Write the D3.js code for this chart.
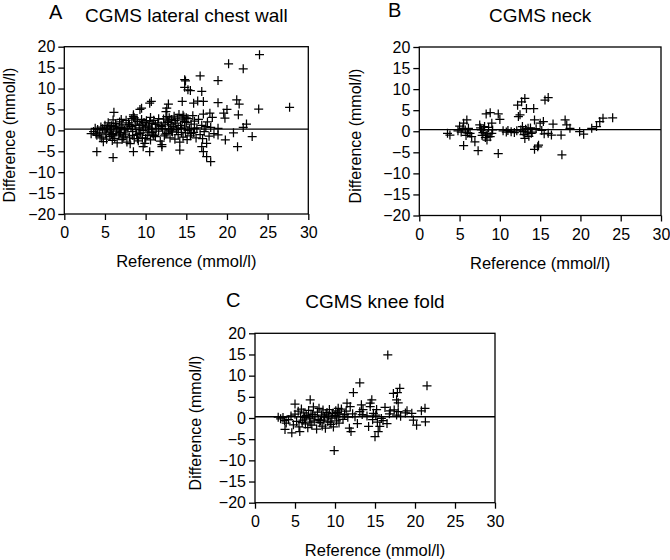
<!DOCTYPE html>
<html><head><meta charset="utf-8">
<script src="https://cdn.jsdelivr.net/npm/d3@7"></script>
<style>body{margin:0;background:#fff}svg{display:block}</style>
</head><body>
<svg id="c" width="670" height="560"></svg>
<script>
// ---- data ----
const panelLetters = ["A", "B", "C"];
const panelTitles = ["CGMS lateral chest wall", "CGMS neck", "CGMS knee fold"];
const xLabel = "Reference (mmol/l)";
const yLabel = "Difference (mmol/l)";
const xTicks = [0, 5, 10, 15, 20, 25, 30];
const yTicks = [-20, -15, -10, -5, 0, 5, 10, 15, 20];
const biasValues = [0.3, 0.4, 0.3];

// panel A: [reference, difference]
const chestWall = [
[3.3,-0.8],[3.6,-0.3],[3.8,0.5],[4.0,-1.2],[4.1,0.2],[4.3,-0.6],[4.5,0.8],[4.6,-1.8],[4.8,-2.7],[4.9,0.1],
[5.0,1.2],[5.1,-0.9],[5.2,-2.1],[5.3,0.6],[5.4,1.8],[5.5,-0.4],[5.6,-1.5],[5.7,0.3],[5.8,1.1],[5.9,-2.4],
[6.0,-0.7],[6.1,0.9],[6.2,-1.9],[6.3,1.6],[6.4,-0.2],[6.5,-3.0],[6.6,0.4],[6.7,-1.1],[6.8,2.0],[6.9,-0.5],
[7.0,0.7],[7.1,-2.2],[7.2,1.3],[7.3,-1.4],[7.4,0.1],[7.5,-0.9],[7.6,2.4],[7.7,-2.8],[7.8,0.5],[7.9,1.8],
[8.0,-1.6],[8.1,-3.2],[8.2,0.9],[8.3,2.8],[8.4,-0.3],[8.5,3.3],[8.6,-2.0],[8.7,1.2],[8.8,0.2],[8.9,-1.0],
[9.0,2.1],[9.1,-2.5],[9.2,0.6],[9.3,1.5],[9.4,-0.6],[9.5,2.6],[9.6,-1.8],[9.7,0.0],[9.8,1.9],[9.9,-3.1],
[10.0,0.8],[10.1,2.3],[10.2,-1.2],[10.3,1.0],[10.4,-0.4],[10.5,2.0],[10.6,-2.3],[10.7,0.3],[10.8,1.6],[10.9,-0.9],
[11.0,2.4],[11.2,-1.5],[11.3,0.5],[11.5,1.8],[11.6,-0.2],[11.8,-2.6],[11.9,1.1],[12.0,-3.4],[12.1,0.4],[12.2,2.7],
[12.3,-1.3],[12.4,1.5],[12.5,4.5],[12.6,-0.7],[12.7,2.2],[12.8,0.1],[12.9,3.0],[13.0,-1.8],[13.1,1.3],[13.2,2.6],
[13.3,-0.4],[13.4,0.9],[13.5,3.4],[13.6,-2.1],[13.7,1.7],[13.8,0.2],[13.9,2.9],[14.0,-1.0],[14.1,3.8],[14.2,-2.8],
[14.3,1.2],[14.4,0.4],[14.5,2.5],[14.6,-1.6],[14.7,3.2],[14.8,0.8],[14.9,-0.6],[15.0,1.9],[15.1,-2.2],[15.2,2.8],
[15.4,0.3],[15.5,-1.3],[15.6,1.5],[15.8,3.5],[15.9,-0.5],[16.0,2.2],[16.2,-1.8],[16.3,0.6],[16.5,2.6],[16.7,-1.0],
[16.9,1.2],[17.1,3.9],[17.2,-0.3],[17.4,0.9],[17.6,2.0],[17.8,-1.4],[18.0,0.7],[18.2,3.1],[18.4,-0.8],
[5.2,0.3],[5.6,1.0],[6.0,-1.3],[6.4,0.8],[6.8,-0.6],[7.2,-1.8],[7.6,0.4],[8.0,1.4],[8.4,-1.2],[8.8,2.5],
[9.2,-0.8],[9.6,1.2],[10.0,-1.9],[10.4,0.6],[10.8,-0.5],[11.2,1.4],[11.6,2.8],[12.0,0.9],[12.4,-0.9],[12.8,1.9],
[13.2,-0.2],[13.6,2.3],[14.0,0.6],[14.4,-0.5],[14.8,2.1],[15.2,0.0],[15.6,-0.8],[16.0,0.5],[4.4,-1.4],[4.7,0.4],
[3.9,-0.9],[5.8,-1.0],[7.0,2.6],[9.0,-2.0],[11.0,-1.2],[13.0,0.4],[15.0,3.0],[17.0,-2.0],[8.6,3.0],[10.6,3.1],
[12.6,3.3],[14.6,3.6],
[24.0,18.1],[20.2,15.9],[22.0,14.7],[16.7,13.0],[18.9,11.9],[14.9,11.8],[14.8,10.3],[15.5,9.5],[16.9,9.3],[27.7,5.5],
[23.9,5.1],[21.2,7.3],[21.5,6.3],[20.0,5.0],[19.6,4.1],[19.75,2.9],[18.9,6.6],[16.4,7.0],[17.1,6.9],[15.9,6.5],
[14.5,6.9],[21.4,3.7],[22.4,1.5],[22.0,0.7],[23.1,-1.5],[21.3,-3.9],[19.8,-2.3],[20.8,-0.6],[16.9,-3.9],[17.1,-5.1],
[17.5,-6.3],[18.0,-7.5],[17.5,-3.1],[14.2,-4.7],[10.5,-5.1],[8.5,-5.1],[6.0,-6.5],[4.0,-5.1],[9.7,-3.9],[6.0,2.5],
[6.1,4.3],[9.3,5.0],[10.5,6.5],[10.7,6.9],[12.8,6.3],[12.6,5.3],[18.9,0.5],[18.9,-1.1],[17.9,4.1],[9.5,5.3],
[8.5,3.7],[12.0,-3.9],[15.2,9.7],[14.8,12.1]
];

// panel B
const neck = [
[3.5,-0.5],[3.8,-0.9],[4.8,0.1],[5.0,1.2],[5.5,1.9],[5.5,-3.4],[5.7,0.3],[5.9,2.7],[6.1,0.7],[6.3,-0.5],
[6.5,-1.3],[6.9,-2.5],[7.3,-4.6],[7.5,1.5],[7.7,0.3],[7.9,-0.3],[8.1,1.1],[8.3,4.1],[8.3,-0.9],[8.4,-2.1],
[8.8,4.4],[9.0,1.9],[9.0,-0.5],[9.1,0.3],[9.8,4.1],[10.0,2.8],[9.8,-5.3],[10.4,0.1],[11.4,-0.1],[12.1,0.1],
[12.2,6.2],[12.3,3.5],[12.5,3.9],[12.7,7.0],[12.9,-0.1],[13.1,-1.7],[13.1,7.8],[13.3,5.4],[13.5,0.7],[13.9,-0.5],
[14.2,5.4],[14.3,2.7],[14.3,-4.3],[14.8,-3.3],[15.0,1.9],[15.4,2.3],[15.6,7.4],[16.0,8.0],[16.0,-0.5],[16.4,-0.9],
[16.6,1.7],[17.6,-0.9],[17.7,-5.6],[18.1,2.7],[18.3,1.5],[18.7,0.7],[19.9,-0.1],[20.4,-0.7],[21.4,0.7],[22.0,1.1],
[22.4,2.3],[22.8,3.1],[24.0,3.2],
[5.2,-0.2],[5.4,0.6],[5.8,-1.0],[6.0,-0.4],[7.6,0.8],[7.8,-1.0],[8.0,0.4],[8.2,-1.5],[8.5,-0.6],[8.6,0.9],
[8.8,-1.3],[12.6,0.3],[12.8,1.1],[13.0,-0.8],[13.2,0.5],[13.4,-0.4],[13.6,-1.2],[13.8,0.8],[14.0,-0.2],[14.5,0.6],
[14.7,-3.7],[15.2,0.2],[15.5,-0.6],[10.8,-0.2],[11.0,0.2],[11.8,-0.3]
];

// panel C
const kneeFold = [
[16.6,14.9],[13.1,8.3],[12.3,6.0],[21.5,7.6],[18.1,7.0],[17.8,6.0],[17.3,5.8],[17.7,4.3],[17.9,3.6],[9.9,-7.7],
[5.0,3.3],[6.9,4.3],[5.6,-3.2],[4.6,-3.5],[3.75,-2.7],[2.9,0.2],[11.8,-2.4],[12.0,-3.2],[12.8,-1.3],[14.2,-2.0],
[15.0,-4.4],[15.4,-3.2],[15.6,-2.0],[16.5,-1.3],[15.8,-0.1],[16.25,2.5],[16.9,1.7],[19.0,1.7],[19.6,1.1],[19.8,-0.5],
[20.2,-1.7],[20.8,1.7],[21.25,2.3],[21.3,-0.9],[17.7,0.7],[17.9,1.5],[14.4,3.5],[14.6,4.3],[14.4,2.7],[13.3,3.1],
[11.9,2.7],[11.5,3.5],[10.4,2.3],[14.8,1.1],[15.1,0.7],[15.2,2.0],[13.5,2.0],[13.1,1.5],
[3.2,-0.2],[3.5,0.1],[3.7,-0.6],[3.9,-1.2],[4.2,-0.4],[4.5,0.5],[4.8,-1.6],[5.0,0.9],[5.2,-0.8],[5.4,1.6],
[5.5,-2.1],[5.7,0.3],[5.8,2.1],[6.0,-0.5],[6.1,1.2],[6.3,-1.4],[6.4,0.6],[6.6,-2.3],[6.7,1.8],[6.8,-0.2],
[7.0,0.9],[7.1,-1.7],[7.3,2.6],[7.4,-0.7],[7.5,0.4],[7.7,-2.6],[7.8,1.4],[7.9,-0.3],[8.0,2.3],[8.1,-1.1],
[8.3,0.7],[8.4,-1.9],[8.5,1.9],[8.6,-0.5],[8.7,0.2],[8.8,-2.4],[9.0,1.3],[9.1,-0.9],[9.2,0.5],[9.3,2.0],
[9.5,-1.5],[9.6,0.0],[9.7,1.1],[9.8,-2.1],[10.0,0.6],[10.1,1.7],[10.2,-0.7],[10.4,0.3],[10.5,-1.2],[10.6,1.0],
[10.8,2.1],[11.0,-0.3],[11.2,0.8],[11.4,1.6],[11.6,0.2],[6.2,0.1],[7.2,0.8],[8.2,-0.6],[9.4,-1.0],[10.3,1.3],
[5.9,-1.1],[6.9,-1.0],[8.9,0.9],[12.2,1.0],[12.5,0.3],[13.4,0.8],[14.0,0.5],[14.7,-0.4],[15.3,-1.0],[16.0,-0.6],
[16.8,1.0],[18.2,0.4],[18.8,1.2],[17.4,1.9]
];

const seriesList = [chestWall, neck, kneeFold];

// ---- layout ----
const layout = [
  {l:64.3, r:308.3, t:46.7, b:214,   lx:49,  ly:18.5,  ty:22,    ylx:15,    yly:135},
  {l:419.3,r:661,   t:47,   b:215.5, lx:388, ly:17.3,  ty:21.7,  ylx:361,   yly:136},
  {l:255,  r:495,   t:333.3,b:502.7, lx:226, ly:306.7, ty:308.3, ylx:201,   yly:423}
];
const FONT = "'Liberation Sans', Arial, Helvetica, sans-serif";
const svg = d3.select("#c").style("font-family", FONT);

seriesList.forEach((data, i) => {
  const L = layout[i];
  const x = d3.scaleLinear().domain([0, 30]).range([L.l, L.r]);
  const y = d3.scaleLinear().domain([-20, 20]).range([L.b, L.t]);
  const g = svg.append("g");

  const xa = g.append("g").attr("transform", `translate(0,${L.b})`)
    .call(d3.axisBottom(x).tickValues(xTicks).tickSize(6).tickPadding(7).tickSizeOuter(0));
  const ya = g.append("g").attr("transform", `translate(${L.l},0)`)
    .call(d3.axisLeft(y).tickValues(yTicks).tickSize(6).tickPadding(3).tickSizeOuter(0));
  [xa, ya].forEach(a => {
    a.select(".domain").remove();
    a.selectAll("line").attr("stroke", "#000").attr("stroke-width", 1.3);
    a.selectAll("text").attr("fill", "#000").style("font-size", "16px").style("font-family", FONT);
  });

  g.append("rect").attr("x", L.l).attr("y", L.t)
    .attr("width", L.r - L.l).attr("height", L.b - L.t)
    .attr("fill", "none").attr("stroke", "#000").attr("stroke-width", 1.3);

  g.append("line").attr("x1", L.l).attr("x2", L.r)
    .attr("y1", y(biasValues[i])).attr("y2", y(biasValues[i]))
    .attr("stroke", "#000").attr("stroke-width", 1.3);

  g.append("g").selectAll("path").data(data).join("path")
    .attr("transform", d => `translate(${x(d[0])},${y(d[1])})`)
    .attr("d", "M-4.5,0H4.5M0,-4.5V4.5")
    .attr("stroke", "#000").attr("stroke-width", 1.25).attr("fill", "none");

  g.append("text").attr("x", L.lx).attr("y", L.ly).text(panelLetters[i])
    .style("font-size", "20px").attr("fill", "#000");
  g.append("text").attr("x", (L.l + L.r) / 2).attr("y", L.ty).attr("text-anchor", "middle")
    .text(panelTitles[i]).style("font-size", "19px").attr("fill", "#000");
  g.append("text").attr("x", (L.l + L.r) / 2).attr("y", L.b + 53).attr("text-anchor", "middle")
    .text(xLabel).style("font-size", "16.5px").attr("fill", "#000");
  g.append("text").attr("transform", `translate(${L.ylx},${L.yly}) rotate(-90)`)
    .attr("text-anchor", "middle").text(yLabel).style("font-size", "16px").attr("fill", "#000");
});
</script>
</body></html>
